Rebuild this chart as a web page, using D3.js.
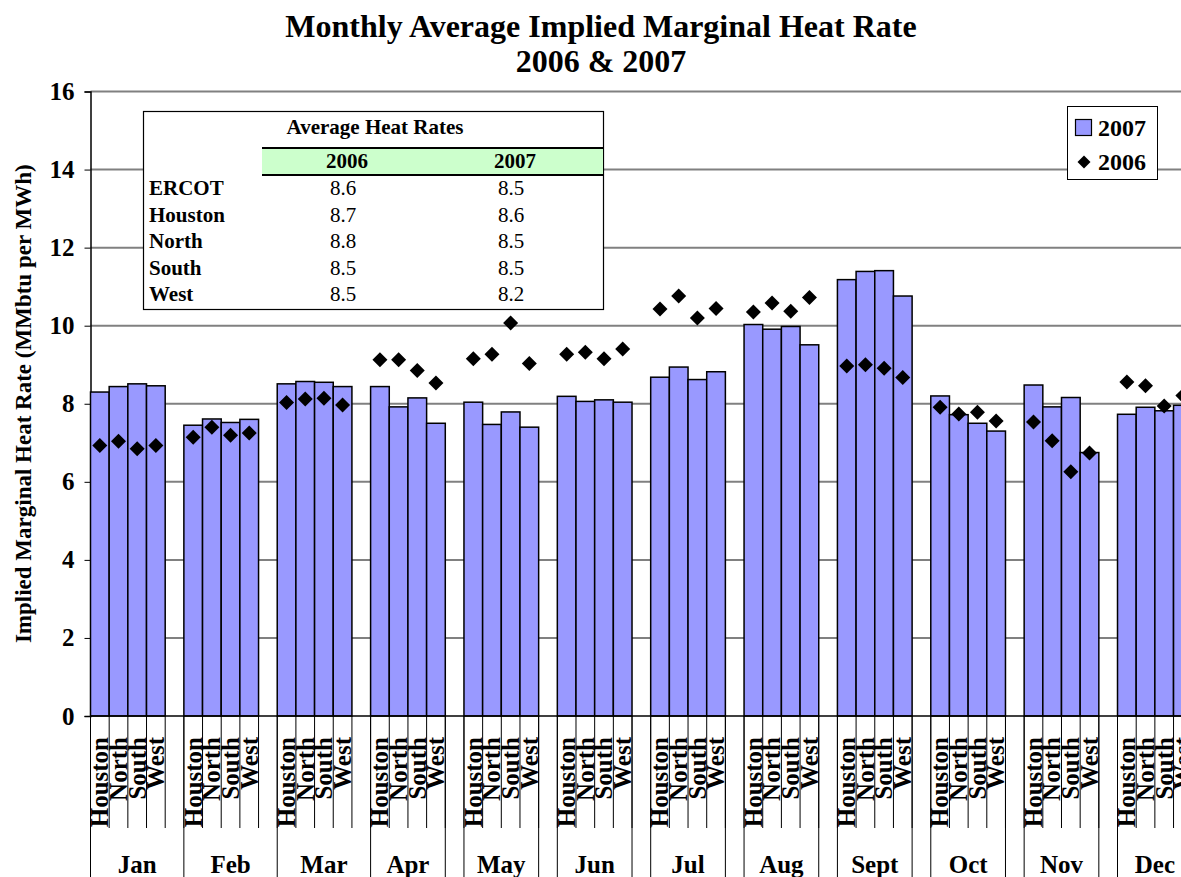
<!DOCTYPE html>
<html>
<head>
<meta charset="utf-8">
<script src="https://cdn.jsdelivr.net/npm/d3@7"></script>
<style>
  html, body { margin: 0; padding: 0; background: #ffffff; }
  svg { display: block; font-family: "Liberation Serif", "Times New Roman", serif; }
</style>
</head>
<body>
<svg id="chart" width="1181" height="877"></svg>
<script>
// Monthly average implied marginal heat rates (MMbtu per MWh) by ERCOT zone
const months  = ["Jan", "Feb", "Mar", "Apr", "May", "Jun", "Jul", "Aug", "Sept", "Oct", "Nov", "Dec"];
const regions = ["Houston", "North", "South", "West"];

// Outer-label cell of each month's spacer row: "" continues the month, " " starts a blank group
const spacerLabels = ["", "", "", " ", " ", " ", " ", " ", " ", " ", " ", " "];

// 2007 (bars)
const houston2007 = [8.30, 7.45, 8.51, 8.44, 8.04, 8.19, 8.68, 10.03, 11.18, 8.20, 8.48, 7.73];
const north2007   = [8.44, 7.61, 8.57, 7.92, 7.47, 8.06, 8.94,  9.91, 11.39, 7.72, 7.92, 7.91];
const south2007   = [8.51, 7.52, 8.55, 8.15, 7.79, 8.10, 8.62,  9.98, 11.41, 7.50, 8.16, 7.82];
const west2007    = [8.46, 7.60, 8.44, 7.50, 7.40, 8.04, 8.82,  9.51, 10.76, 7.30, 6.75, 7.96];

// 2006 (diamonds)
const houston2006 = [6.93, 7.14, 8.03, 9.13,  9.15, 9.27, 10.43, 10.35, 8.97, 7.91, 7.53, 8.56];
const north2006   = [7.04, 7.40, 8.12, 9.13,  9.27, 9.32, 10.76, 10.58, 9.00, 7.74, 7.05, 8.46];
const south2006   = [6.85, 7.19, 8.14, 8.85, 10.07, 9.15, 10.20, 10.37, 8.91, 7.78, 6.26, 7.94];
const west2006    = [6.93, 7.25, 7.97, 8.53,  9.03, 9.40, 10.44, 10.72, 8.67, 7.56, 6.74, 8.21];

const yTicks = [0, 2, 4, 6, 8, 10, 12, 14, 16];

// Summary table
const tableTitle   = "Average Heat Rates";
const tableYears   = ["2006", "2007"];
const tableRows    = ["ERCOT", "Houston", "North", "South", "West"];
const tableAvg2006 = ["8.6", "8.7", "8.8", "8.5", "8.5"];
const tableAvg2007 = ["8.5", "8.6", "8.5", "8.5", "8.2"];

const legendItems = ["2007", "2006"];

const titleLines = ["Monthly Average Implied Marginal Heat Rate", "2006 & 2007"];
const yAxisTitle = "Implied Marginal Heat Rate (MMbtu per MWh)";

// ---- build category slots: four zones plus a spacer per month ----
const values2007 = [houston2007, north2007, south2007, west2007];
const values2006 = [houston2006, north2006, south2006, west2006];
const slots = [];
months.forEach((m, mi) => {
  regions.forEach((r, ri) => {
    slots.push({ outer: ri === 0 ? m : "", inner: r, v2007: values2007[ri][mi], v2006: values2006[ri][mi] });
  });
  slots.push({ outer: spacerLabels[mi], inner: "", v2007: null, v2006: null });
});

// outer-level groups (a non-empty cell opens a new group)
const groups = [];
slots.forEach((s, i) => {
  if (s.outer !== "" || groups.length === 0) groups.push({ label: s.outer.trim(), start: i, end: i + 1 });
  else groups[groups.length - 1].end = i + 1;
});

// ---- layout ----
const svg = d3.select("#chart");
const W = 1181, H = 877;
const plotLeft = 90.5, slotW = 18.673;
const plotRight = plotLeft + slots.length * slotW;
const plotTop = 91.5, plotBottom = 716;

const x = d3.scaleBand().domain(d3.range(slots.length)).range([plotLeft, plotRight]).padding(0);
const y = d3.scaleLinear().domain([0, 16]).range([plotBottom, plotTop]);

svg.append("rect").attr("width", W).attr("height", H).attr("fill", "#ffffff");

// title
svg.append("g").selectAll("text").data(titleLines).join("text")
  .attr("x", 601).attr("y", (d, i) => 37 + i * 35)
  .attr("text-anchor", "middle")
  .attr("font-size", 32).attr("font-weight", "bold")
  .text(d => d);

// gridlines
svg.append("g").selectAll("line").data(yTicks.filter(t => t > 0)).join("line")
  .attr("x1", plotLeft).attr("x2", plotRight)
  .attr("y1", d => y(d)).attr("y2", d => y(d))
  .attr("stroke", "#808080").attr("stroke-width", 2);

// y axis
const yAxis = d3.axisLeft(y).tickValues(yTicks).tickSize(6).tickPadding(10).tickFormat(d3.format("d"));
const yg = svg.append("g").attr("transform", `translate(${plotLeft},0)`).call(yAxis);
yg.select(".domain").attr("stroke", "#000").attr("stroke-width", 1.5);
yg.selectAll(".tick line").attr("stroke", "#000");
yg.selectAll(".tick text")
  .attr("font-family", "Liberation Serif, Times New Roman, serif")
  .attr("font-size", 25).attr("font-weight", "bold").attr("fill", "#000");

// y axis title
svg.append("text")
  .attr("transform", `translate(31,${(plotTop + plotBottom) / 2}) rotate(-90)`)
  .attr("text-anchor", "middle")
  .attr("font-size", 23).attr("font-weight", "bold")
  .text(yAxisTitle);

// 2007 bars
svg.append("g").selectAll("rect").data(slots.filter(s => s.v2007 !== null)).join("rect")
  .attr("x", d => x(slots.indexOf(d)))
  .attr("width", x.bandwidth())
  .attr("y", d => y(d.v2007))
  .attr("height", d => y(0) - y(d.v2007))
  .attr("fill", "#9999ff").attr("stroke", "#000").attr("stroke-width", 1.5);

// 2006 diamonds
const diamond = r => `M0,${-r}L${r},0L0,${r}L${-r},0Z`;
svg.append("g").selectAll("path").data(slots.filter(s => s.v2006 !== null)).join("path")
  .attr("transform", d => `translate(${x(slots.indexOf(d)) + x.bandwidth() / 2},${y(d.v2006)})`)
  .attr("d", diamond(7.5))
  .attr("fill", "#000");

// x axis line
svg.append("line")
  .attr("x1", plotLeft).attr("x2", plotRight)
  .attr("y1", plotBottom).attr("y2", plotBottom)
  .attr("stroke", "#000").attr("stroke-width", 1.5);

// inner category ticks and labels
const innerTickBottom = 828;
const xg = svg.append("g");
xg.selectAll("line.inner").data(d3.range(slots.length + 1)).join("line")
  .attr("class", "inner")
  .attr("x1", i => plotLeft + i * slotW).attr("x2", i => plotLeft + i * slotW)
  .attr("y1", plotBottom).attr("y2", innerTickBottom)
  .attr("stroke", "#000").attr("stroke-width", 1);

xg.selectAll("text.inner").data(slots.filter(s => s.inner !== "")).join("text")
  .attr("class", "inner")
  .attr("transform", d => `translate(${x(slots.indexOf(d)) + x.bandwidth() - 1},737) rotate(-90)`)
  .attr("text-anchor", "end")
  .attr("font-size", 25).attr("font-weight", "bold")
  .text(d => d.inner);

// outer (month) group separators and labels
const groupEdges = Array.from(new Set(groups.flatMap(g => [g.start, g.end])));
xg.selectAll("line.outer").data(groupEdges).join("line")
  .attr("class", "outer")
  .attr("x1", i => plotLeft + i * slotW).attr("x2", i => plotLeft + i * slotW)
  .attr("y1", plotBottom).attr("y2", H + 2)
  .attr("stroke", "#000").attr("stroke-width", 1);

xg.selectAll("text.outer").data(groups.filter(g => g.label !== "")).join("text")
  .attr("class", "outer")
  .attr("x", g => plotLeft + (g.start + g.end) / 2 * slotW)
  .attr("y", 873)
  .attr("text-anchor", "middle")
  .attr("font-size", 25).attr("font-weight", "bold")
  .text(g => g.label);

// summary table
const tb = svg.append("g");
tb.append("rect").attr("x", 143.5).attr("y", 111.5).attr("width", 460).attr("height", 198)
  .attr("fill", "#fff").attr("stroke", "#000").attr("stroke-width", 1.2);
tb.append("rect").attr("x", 262).attr("y", 148).attr("width", 341).attr("height", 27)
  .attr("fill", "#ccffcc");
tb.selectAll("line.band").data([148, 175]).join("line").attr("class", "band")
  .attr("x1", 262).attr("x2", 603).attr("y1", d => d).attr("y2", d => d)
  .attr("stroke", "#000").attr("stroke-width", 2);
tb.append("text").attr("x", 375).attr("y", 134).attr("text-anchor", "middle")
  .attr("font-size", 21).attr("font-weight", "bold").text(tableTitle);
const colX = [347, 515];
tb.selectAll("text.year").data(tableYears).join("text").attr("class", "year")
  .attr("x", (d, i) => colX[i]).attr("y", 168).attr("text-anchor", "middle")
  .attr("font-size", 21).attr("font-weight", "bold").text(d => d);
const rowY = i => 195 + i * 26.5;
tb.selectAll("text.rowlab").data(tableRows).join("text").attr("class", "rowlab")
  .attr("x", 149).attr("y", (d, i) => rowY(i))
  .attr("font-size", 21).attr("font-weight", "bold").text(d => d);
[tableAvg2006, tableAvg2007].forEach((col, ci) => {
  tb.selectAll(`text.v${ci}`).data(col).join("text").attr("class", `v${ci}`)
    .attr("x", colX[ci] - 4).attr("y", (d, i) => rowY(i)).attr("text-anchor", "middle")
    .attr("font-size", 21).text(d => d);
});

// legend
const lg = svg.append("g");
lg.append("rect").attr("x", 1067.5).attr("y", 106.5).attr("width", 90).attr("height", 73)
  .attr("fill", "#fff").attr("stroke", "#000").attr("stroke-width", 1);
lg.append("rect").attr("x", 1075.5).attr("y", 119.5).attr("width", 16).attr("height", 16)
  .attr("fill", "#9999ff").attr("stroke", "#000").attr("stroke-width", 1.2);
lg.append("path").attr("transform", "translate(1084,162)").attr("d", diamond(6.5)).attr("fill", "#000");
lg.selectAll("text").data(legendItems).join("text")
  .attr("x", 1098).attr("y", (d, i) => 136 + i * 34)
  .attr("font-size", 24).attr("font-weight", "bold").text(d => d);
</script>
</body>
</html>
